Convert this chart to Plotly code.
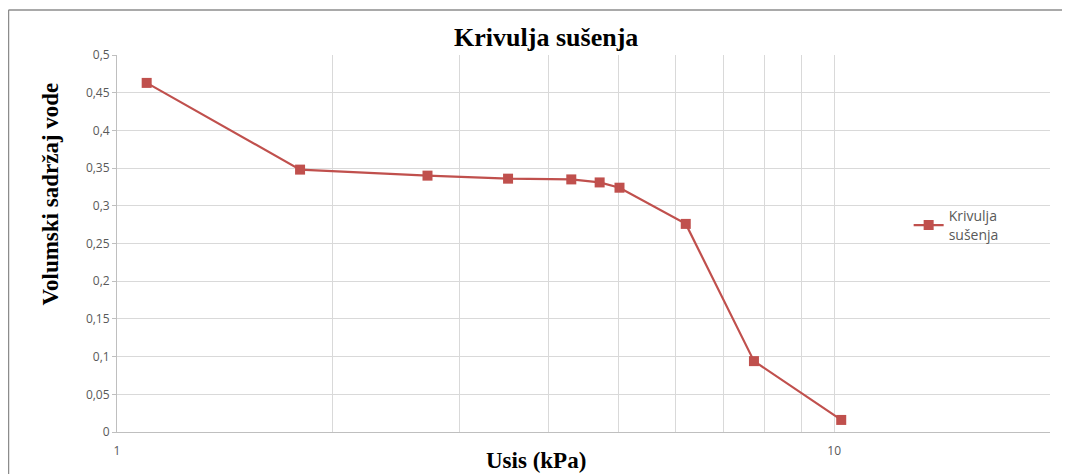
import plotly.graph_objects as go

# Usis (kPa) i volumski sadržaj vode, očitano s grafa
usis = [1.10, 1.80, 2.71, 3.51, 4.30, 4.71, 5.02, 6.21, 7.73, 10.23]
sadrzaj_vode = [0.463, 0.348, 0.340, 0.336, 0.335, 0.331, 0.324, 0.276, 0.094, 0.016]

x_grid = [1, 2, 3, 4, 5, 6, 7, 8, 9, 10, 20]
x_labels = ["1", "", "", "", "", "", "", "", "", "10", ""]

crvena = "#c0504d"
siva_font = "#595959"
siva_grid = "#d9d9d9"

fig = go.Figure()
fig.add_trace(go.Scatter(
    x=usis,
    y=sadrzaj_vode,
    mode="lines+markers",
    name="Krivulja<br>sušenja",
    line=dict(color=crvena, width=2.2),
    marker=dict(symbol="square", size=10, color=crvena),
))

fig.update_layout(
    width=1070,
    height=474,
    margin=dict(l=109, r=28, t=47, b=50, autoexpand=False),
    paper_bgcolor="white",
    plot_bgcolor="white",
    separators=", ",
    title=dict(
        text="<b>Krivulja sušenja</b>",
        x=0.503, xanchor="center",
        y=0.939, yanchor="middle",
        font=dict(family="Liberation Serif", size=26, color="black"),
    ),
    legend=dict(
        x=0.8485, y=0.548, xanchor="left", yanchor="middle",
        font=dict(family="Open Sans", size=14, color=siva_font),
        bgcolor="rgba(0,0,0,0)",
    ),
    showlegend=True,
)

fig.update_xaxes(
    type="log",
    range=[0, 1.3010],
    tickmode="array",
    tickvals=x_grid,
    ticktext=x_labels,
    showgrid=True,
    gridcolor=siva_grid,
    gridwidth=1,
    showline=True,
    linecolor="#bfbfbf",
    ticks="",
    ticklabelstandoff=8,
    tickfont=dict(family="Open Sans", size=12, color=siva_font),
    automargin=False,
    zeroline=False,
)

fig.update_yaxes(
    range=[0, 0.5],
    dtick=0.05,
    showgrid=True,
    gridcolor=siva_grid,
    gridwidth=1,
    showline=True,
    linecolor="#bfbfbf",
    ticks="outside",
    ticklen=4,
    tickcolor="#bfbfbf",
    tickfont=dict(family="Open Sans", size=12, color=siva_font),
    automargin=False,
    zeroline=False,
)

# naslovi osi kao anotacije (u originalu nisu centrirani)
fig.add_annotation(text="<b>Usis (kPa)</b>", xref="paper", yref="paper",
                   x=0.449, y=-0.0769, xanchor="center", yanchor="middle",
                   showarrow=False,
                   font=dict(family="Liberation Serif", size=23, color="black"))
fig.add_annotation(text="<b>Volumski sadržaj vode</b>", xref="paper", yref="paper",
                   x=-0.0718, y=0.630, xanchor="center", yanchor="middle",
                   textangle=-90, showarrow=False,
                   font=dict(family="Liberation Serif", size=23, color="black"))

# okvir grafikona (gornja i lijeva linija)
fig.add_shape(type="line", xref="paper", yref="paper",
              x0=-0.1163, x1=1.04, y0=1.1194, y1=1.1194,
              line=dict(color="#8c8c8c", width=1.5))
fig.add_shape(type="line", xref="paper", yref="paper",
              x0=-0.1163, x1=-0.1163, y0=1.1194, y1=-0.14,
              line=dict(color="#8c8c8c", width=1.5))

fig.write_html("out.html")
